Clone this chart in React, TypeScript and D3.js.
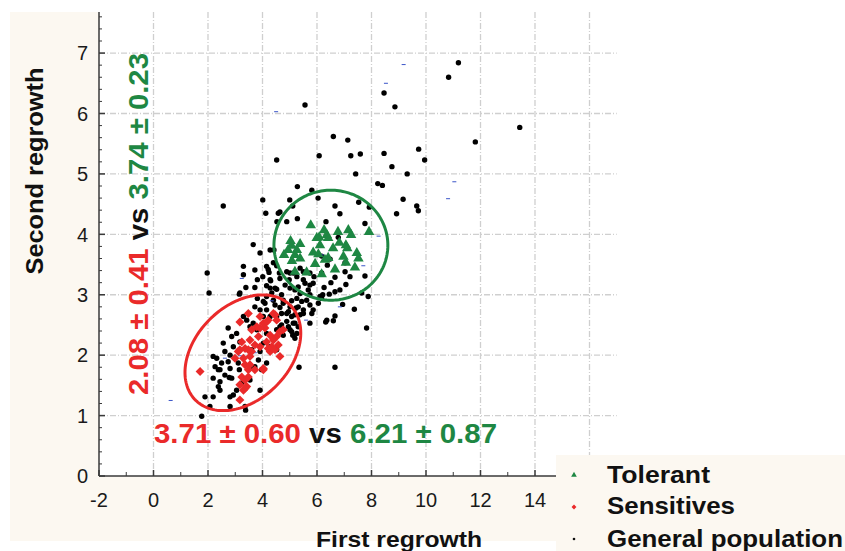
import React from 'react';
import * as d3 from 'd3';

// ---------- data ----------
const xTickValues = [-2, 0, 2, 4, 6, 8, 10, 12, 14, 16];
const xMinorTickValues = [-1, 1, 3, 5, 7, 9, 11, 13, 15];
const yTickValues = [0, 1, 2, 3, 4, 5, 6, 7];
const yGridValues = [1, 2, 3, 4, 5, 6, 7];
const xGridValues = [0, 2, 4, 6, 8, 10, 12, 14, 16];

const generalPopulation: [number, number][] = [
  [5.56, 6.14], [11.19, 6.84], [10.83, 6.6], [8.46, 6.34], [8.86, 6.11], [13.44, 5.77], [11.81, 5.53],
  [6.6, 5.62], [7.13, 5.56], [6.08, 5.3], [7.24, 5.3], [7.59, 5.33], [8.46, 5.34], [9.73, 5.41],
  [9.95, 5.23], [8.75, 5.12], [7.42, 5.0], [9.31, 5.0], [8.23, 4.84], [8.4, 4.81], [5.28, 4.79],
  [5.81, 4.73], [9.16, 4.58], [9.66, 4.47], [9.72, 4.39], [8.92, 4.34], [7.53, 4.53], [6.04, 4.6],
  [5.0, 4.57], [5.11, 4.47], [6.66, 4.47], [6.84, 4.34], [5.28, 4.26], [6.33, 4.21], [7.76, 4.18],
  [7.92, 4.45], [6.78, 3.95], [4.64, 4.37], [4.89, 4.21], [4.52, 5.23], [2.56, 4.47], [4.01, 4.57],
  [4.12, 4.35], [4.58, 4.35], [4.53, 4.21],
  [3.66, 3.83], [4.28, 3.74], [4.42, 3.74], [3.91, 3.69], [3.3, 3.47], [3.72, 3.41], [4.15, 3.47],
  [1.97, 3.36], [4.21, 3.42], [4.52, 3.48], [3.39, 3.12], [3.72, 3.12], [4.3, 3.23], [4.62, 3.36],
  [4.64, 3.27], [4.46, 3.11], [4.24, 3.37], [4.01, 3.3], [3.3, 3.33], [3.81, 3.25], [3.17, 3.03],
  [4.15, 3.15], [4.52, 3.09], [4.7, 3.0], [4.34, 3.03], [4.83, 3.16], [4.98, 3.25], [5.01, 3.11],
  [5.19, 3.08], [5.31, 3.13], [5.38, 3.02], [5.56, 3.19], [5.5, 3.25], [5.74, 3.16], [5.68, 3.08],
  [5.86, 3.19], [5.74, 3.36], [5.26, 3.3], [5.01, 3.36], [4.89, 3.38], [5.5, 3.38], [4.76, 2.91],
  [5.07, 2.9], [5.26, 2.94], [5.44, 2.89], [5.62, 2.91], [5.74, 2.83], [5.31, 2.8], [5.5, 2.75],
  [5.86, 2.75], [6.05, 2.86], [5.01, 2.8], [4.89, 2.69], [5.19, 2.67], [6.36, 2.58], [5.74, 2.53],
  [4.15, 2.97], [4.4, 2.91], [4.46, 2.83], [4.64, 2.79], [4.03, 2.89], [4.15, 2.75], [4.52, 2.64],
  [4.7, 2.69], [4.89, 2.56], [4.7, 2.5], [5.13, 2.53], [5.31, 2.47],
  [6.17, 3.64], [6.38, 3.49], [7.03, 3.53], [6.17, 3.36], [7.21, 3.3], [7.76, 3.31], [6.51, 3.2],
  [7.06, 3.17], [6.26, 3.12], [6.66, 3.05], [6.45, 3.01], [6.21, 3.0], [7.64, 3.03], [7.88, 2.97],
  [6.94, 2.84], [7.37, 2.76], [6.66, 2.65], [6.6, 2.57], [6.32, 2.55], [7.82, 2.45], [6.66, 1.8],
  [5.34, 1.8], [5.11, 2.33], [4.95, 2.47], [5.19, 2.28], [5.07, 2.39], [4.64, 2.47], [5.38, 2.67],
  [6.17, 2.94],
  [2.04, 3.03], [3.15, 3.01], [3.81, 2.94], [4.28, 3.11], [3.72, 2.8], [3.91, 2.75], [4.09, 2.86],
  [4.76, 2.86], [4.95, 2.72], [5.07, 2.64], [5.23, 2.78], [5.5, 2.69], [5.81, 2.69], [5.19, 2.53],
  [5.26, 2.36], [5.01, 2.42], [4.76, 2.33], [4.28, 2.64], [4.03, 2.64], [3.66, 2.53], [3.42, 2.58],
  [3.3, 2.64], [3.79, 2.42], [3.54, 2.47], [4.15, 2.36], [4.52, 2.42], [2.74, 2.45], [3.05, 2.36],
  [2.87, 2.31], [3.17, 2.22], [2.93, 2.14], [2.56, 2.2], [2.62, 2.06], [2.32, 1.95], [2.81, 2.0],
  [2.99, 1.95], [2.74, 1.89], [3.11, 1.87], [2.5, 1.87], [2.26, 1.81], [2.44, 1.76], [2.81, 1.78],
  [2.62, 1.67], [2.19, 1.62], [2.44, 1.56], [2.87, 1.62], [3.24, 1.54], [2.38, 1.48], [2.44, 1.42],
  [2.93, 1.34], [2.19, 1.31], [3.05, 1.42], [3.54, 1.59], [3.91, 1.42], [3.72, 1.81], [3.85, 1.92],
  [3.54, 1.78], [3.97, 1.76], [4.15, 1.87], [3.6, 2.09], [3.91, 2.06], [4.28, 2.14], [4.03, 2.2],
  [4.52, 2.09], [1.89, 1.31], [2.07, 1.15], [2.81, 1.15], [3.36, 1.15], [1.77, 0.99], [2.19, 1.98],
  [2.38, 1.76], [2.81, 1.31], [3.38, 1.09], [2.78, 1.63], [3.15, 1.76],
  [6.48, 3.59], [7.03, 3.38], [6.66, 3.29], [5.89, 3.3], [5.13, 3.36], [5.38, 3.44], [4.4, 3.53],
  [4.28, 3.25], [6.84, 3.08], [5.74, 3.0], [6.11, 2.97],
];

const sensitives: [number, number][] = [
  [1.71, 1.73], [3.17, 2.55], [3.48, 2.69], [3.24, 2.22], [3.36, 2.11], [3.11, 2.06], [2.99, 1.95],
  [3.6, 2.06], [3.54, 1.98], [3.36, 1.84], [3.54, 1.84], [3.72, 1.76], [3.24, 1.64], [3.36, 1.59],
  [3.17, 1.51], [3.42, 1.48], [3.3, 1.42], [3.17, 1.26], [3.91, 2.64], [4.03, 2.53], [4.09, 2.45],
  [4.21, 2.58], [4.4, 2.69], [4.52, 2.58], [4.28, 2.33], [4.15, 2.22], [4.34, 2.14], [4.52, 2.31],
  [4.64, 2.39], [4.76, 2.42], [4.58, 2.17], [4.28, 2.06], [4.64, 1.98], [4.03, 1.78], [3.91, 2.45],
  [3.6, 2.42], [3.85, 2.31], [3.54, 2.25], [3.91, 2.14], [3.72, 2.17], [3.48, 1.64], [4.46, 2.67],
  [4.15, 2.55], [3.79, 2.47], [3.17, 2.09], [3.48, 2.09], [3.3, 1.95], [3.48, 1.76], [4.03, 1.76],
  [3.36, 1.45], [4.21, 2.11], [4.4, 2.25], [4.46, 2.09],
];

const tolerant: [number, number][] = [
  [5.03, 3.89], [5.07, 3.81], [4.79, 3.66], [4.94, 3.74], [5.26, 3.74], [5.38, 3.6], [5.19, 3.38],
  [5.62, 3.37], [5.77, 4.15], [5.99, 3.94], [5.86, 3.7], [6.05, 3.67], [6.17, 3.34], [6.26, 4.07],
  [6.36, 3.99], [6.41, 3.94], [6.29, 3.58], [6.66, 3.42], [6.82, 3.86], [6.97, 3.63], [7.06, 3.82],
  [7.11, 3.77], [7.06, 3.53], [7.15, 4.07], [7.25, 3.99], [7.39, 3.45], [7.46, 3.69], [7.52, 3.6],
  [7.91, 4.04], [5.08, 3.56], [5.38, 3.84], [6.11, 3.82], [6.59, 3.77], [6.77, 4.04], [5.93, 3.51],
  [6.08, 3.95], [5.19, 3.66], [6.41, 3.61],
];

const strayMarks: [number, number][] = [
  [9.18, 6.81], [8.53, 6.5], [4.5, 6.03], [11.04, 4.87], [10.81, 4.59], [8.26, 3.97], [0.63, 1.25],
  [6.84, 2.8], [7.7, 3.48], [2.62, 1.95], [3.72, 2.04], [4.25, 2.04], [3.17, 1.99], [5.01, 3.82],
  [3.24, 3.27], [4.34, 2.9], [5.6, 2.58], [6.78, 4.02], [6.17, 3.66],
];

// ellipse: centre + two semi-axis vectors, all in data units
const sensitiveEllipse = { cx: 3.28, cy: 2.04, ux: 1.739, uy: 0.784, vx: 1.22, vy: -0.55 };
const tolerantEllipse = { cx: 6.51, cy: 3.82, ux: 2.09, uy: 0, vx: 0, vy: 0.91 };

const yAnnotation = [
  { text: '2.08 ± 0.41', group: 'sens' },
  { text: ' vs ', group: 'none' },
  { text: '3.74 ± 0.23', group: 'tol' },
];
const xAnnotation = [
  { text: '3.71 ± 0.60', group: 'sens' },
  { text: ' vs ', group: 'none' },
  { text: '6.21 ± 0.87', group: 'tol' },
];
const legendLabels = ['Tolerant', 'Sensitives', 'General population'];

// ---------- styles ----------
const RED = '#ea2a2a';
const GREEN = '#1e8743';
const CREAM = '#fcf8f1';
const FONT = '"Liberation Sans", Arial, sans-serif';
const groupColor = (g: string) => (g === 'sens' ? RED : g === 'tol' ? GREEN : '#111');

export default function App() {
  const W = 845;
  const H = 551;
  const x = d3.scaleLinear().domain([-2, 17]).range([99, 616.75]);
  const y = d3.scaleLinear().domain([0, 7.68]).range([476, 12]);
  const [x0, x1] = x.range();
  const [y0, y1] = y.range();

  const ellipsePath = (e: typeof sensitiveEllipse) => {
    const pts = d3.range(0, 2 * Math.PI, Math.PI / 90).map((t) => [
      x(e.cx + Math.cos(t) * e.ux + Math.sin(t) * e.vx),
      y(e.cy + Math.cos(t) * e.uy + Math.sin(t) * e.vy),
    ] as [number, number]);
    return d3.line().curve(d3.curveLinearClosed)(pts) || '';
  };

  const triangle = d3.symbol().type(d3.symbolTriangle).size(48)() || '';
  const diamond = d3.symbol().type(d3.symbolSquare).size(40)() || '';
  const triangleSmall = d3.symbol().type(d3.symbolTriangle).size(14)() || '';
  const diamondSmall = d3.symbol().type(d3.symbolSquare).size(12)() || '';

  const yMinor = d3.range(0, 7.61, 0.2).filter((v) => Math.abs(v - Math.round(v)) > 0.01);
  const gridDash = '6 2 1 2';
  const legendMarkerX = 574;
  const legendBaselines = [483, 514, 547];
  const legendLengths = [103, 128, 236];

  return (
    <svg width={W} height={H} style={{ position: 'absolute', left: 0, top: 0, display: 'block', background: '#fff' }} fontFamily={FONT}>
      {/* backgrounds */}
      <rect x={10} y={y1} width={556 - 10} height={541 - y1} fill={CREAM} />
      <rect x={x0} y={y1} width={W - x0} height={y0 - y1} fill="#fff" />

      {/* grid */}
      <g stroke="#cfcfcf" strokeWidth={1.3} strokeDasharray={gridDash}>
        {yGridValues.map((v) => (
          <line key={'gy' + v} x1={x0} x2={x1} y1={y(v)} y2={y(v)} />
        ))}
        {xGridValues.map((v) => (
          <line key={'gx' + v} x1={x(v)} x2={x(v)} y1={y1} y2={y0} />
        ))}
      </g>

      {/* general population */}
      <g fill="#000">
        {generalPopulation.map((d, i) => (
          <circle key={'g' + i} cx={x(d[0])} cy={y(d[1])} r={2.7} />
        ))}
      </g>
      {/* stray tiny marks */}
      <g stroke="#3b55c8" strokeWidth={1}>
        {strayMarks.map((d, i) => (
          <line key={'s' + i} x1={x(d[0]) - 2} x2={x(d[0]) + 2} y1={y(d[1])} y2={y(d[1])} />
        ))}
      </g>
      {/* sensitives */}
      <g fill={RED}>
        {sensitives.map((d, i) => (
          <path key={'r' + i} d={diamond} transform={`translate(${x(d[0])},${y(d[1])}) rotate(45)`} />
        ))}
      </g>
      {/* tolerant */}
      <g fill={GREEN}>
        {tolerant.map((d, i) => (
          <path key={'t' + i} d={triangle} transform={`translate(${x(d[0])},${y(d[1])})`} />
        ))}
      </g>

      {/* ellipses */}
      <path d={ellipsePath(sensitiveEllipse)} fill="none" stroke={RED} strokeWidth={3} />
      <path d={ellipsePath(tolerantEllipse)} fill="none" stroke={GREEN} strokeWidth={3} />

      {/* annotations */}
      <text
        transform="translate(148,395) rotate(-90)"
        fontSize={27}
        fontWeight="bold"
        textLength={342}
        lengthAdjust="spacingAndGlyphs"
      >
        {yAnnotation.map((p, i) => (
          <tspan key={i} fill={groupColor(p.group)} style={{ whiteSpace: 'pre' }}>{p.text}</tspan>
        ))}
      </text>
      <text x={154} y={443} fontSize={27} fontWeight="bold" textLength={343} lengthAdjust="spacingAndGlyphs">
        {xAnnotation.map((p, i) => (
          <tspan key={i} fill={groupColor(p.group)} style={{ whiteSpace: 'pre' }}>{p.text}</tspan>
        ))}
      </text>

      {/* axes */}
      <g stroke="#3a3a3a" strokeWidth={1.5}>
        <line x1={x0} x2={x0} y1={y1} y2={y0} />
        <line x1={x0} x2={x1} y1={y0} y2={y0} />
        {yTickValues.map((v) => (
          <line key={'yt' + v} x1={x0} x2={x0 + 6} y1={y(v)} y2={y(v)} />
        ))}
        {yMinor.map((v, i) => (
          <line key={'ym' + i} x1={x0} x2={x0 + 3} y1={y(v)} y2={y(v)} strokeWidth={1} />
        ))}
        {xTickValues.map((v) => (
          <line key={'xt' + v} x1={x(v)} x2={x(v)} y1={y0} y2={y0 - 6} />
        ))}
        {xMinorTickValues.map((v) => (
          <line key={'xm' + v} x1={x(v)} x2={x(v)} y1={y0} y2={y0 - 4} strokeWidth={1} />
        ))}
      </g>
      <g fontSize={20} fill="#1a1a1a">
        {yTickValues.map((v) => (
          <text key={'yl' + v} x={88} y={y(v)} dy="0.36em" textAnchor="end">{v}</text>
        ))}
        {xTickValues.map((v) => (
          <text key={'xl' + v} x={x(v)} y={y0 + 31} textAnchor="middle">{v}</text>
        ))}
      </g>

      {/* axis titles */}
      <text
        transform="translate(43,171) rotate(-90)"
        textAnchor="middle"
        fontSize={23}
        fontWeight="bold"
        fill="#111"
        textLength={207}
        lengthAdjust="spacingAndGlyphs"
      >
        Second regrowth
      </text>
      <text x={316} y={547} fontSize={22} fontWeight="bold" fill="#111" textLength={166} lengthAdjust="spacingAndGlyphs">
        First regrowth
      </text>

      {/* legend */}
      <rect x={556} y={455} width={W - 556} height={H - 455} fill={CREAM} />
      <path d={triangleSmall} fill={GREEN} transform={`translate(${legendMarkerX},${legendBaselines[0] - 8})`} />
      <path d={diamondSmall} fill={RED} transform={`translate(${legendMarkerX},${legendBaselines[1] - 7}) rotate(45)`} />
      <circle cx={legendMarkerX} cy={legendBaselines[2] - 8} r={1.3} fill="#111" />
      {legendLabels.map((l, i) => (
        <text
          key={l}
          x={607}
          y={legendBaselines[i]}
          fontSize={24}
          fontWeight="bold"
          fill="#111"
          textLength={legendLengths[i]}
          lengthAdjust="spacingAndGlyphs"
        >
          {l}
        </text>
      ))}
    </svg>
  );
}
